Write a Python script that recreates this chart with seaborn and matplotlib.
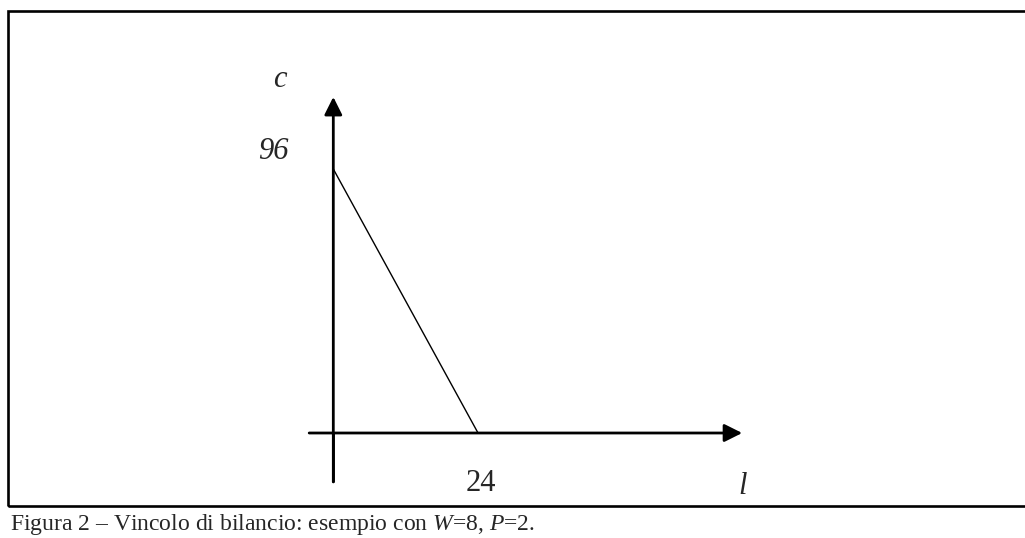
"""
Vincolo di bilancio - esempio con W=8, P=2
"""
import numpy as np
import pandas as pd
import matplotlib.pyplot as plt
from matplotlib.patches import Rectangle
import seaborn as sns

sns.set_style("white")
plt.rcParams['font.family'] = ['Liberation Serif', 'DejaVu Serif']
plt.rcParams['mathtext.fontset'] = 'custom'
plt.rcParams['mathtext.rm'] = 'Liberation Serif'
plt.rcParams['mathtext.it'] = 'Liberation Serif:italic'

# dati: W=8, P=2 -> c = 96 quando l = 0, l = 24 quando c = 0
l_values = [0, 24]
c_values = [96, 0]
c_tick_label = "96"
l_tick_label = "24"
caption = "Figura 2 – Vincolo di bilancio: esempio con $W$=8, $P$=2."

# estensione degli assi disegnati (unità dei dati)
x_axis_from, x_axis_to = -4.0, 67.8
y_axis_from, y_axis_to = -17.8, 122.2

df = pd.DataFrame({"l": l_values, "c": c_values})

fig = plt.figure(figsize=(10.25, 5.38), dpi=100)
ax = fig.add_axes([0, 0, 1, 1])
ax.set_xlim(-55.27, 114.7)
ax.set_ylim(-38.18, 157.45)
ax.axis("off")

# retta di bilancio
sns.lineplot(data=df, x="l", y="c", ax=ax, color="black", linewidth=1.0)

# assi con freccia
arrow = dict(arrowstyle="-|>,head_length=0.4,head_width=0.2", lw=2, color="black",
             mutation_scale=27, shrinkA=0, shrinkB=0)
ax.annotate("", xy=(x_axis_to, 0), xytext=(x_axis_from, 0), arrowprops=arrow)
ax.annotate("", xy=(0, y_axis_to), xytext=(0, y_axis_from), arrowprops=arrow)
ax.plot([0, 0], [y_axis_from, 0], color="black", lw=2, solid_capstyle="butt")

# etichette
ax.text(-10.0, c_values[0] + 6.5, c_tick_label, fontsize=22, style="italic",
        ha="center", va="center")
ax.text(l_values[1] + 0.5, -18.5, l_tick_label, fontsize=22, ha="center", va="center")
ax.text(-8.8, 128.4, "c", fontsize=22, style="italic", ha="center", va="center")
ax.text(x_axis_to, -19.6, "l", fontsize=22, style="italic", ha="center", va="center")

# cornice e didascalia
fig.add_artist(Rectangle((8 / 1025, (538 - 506) / 538), 1.02, (506 - 11) / 538,
                         transform=fig.transFigure, fill=False, lw=1.9,
                         edgecolor="black"))
fig.text(10 / 1025, 1 - 530 / 538, caption, fontsize=17, ha="left", va="baseline")

fig.savefig("out.png", dpi=100)
